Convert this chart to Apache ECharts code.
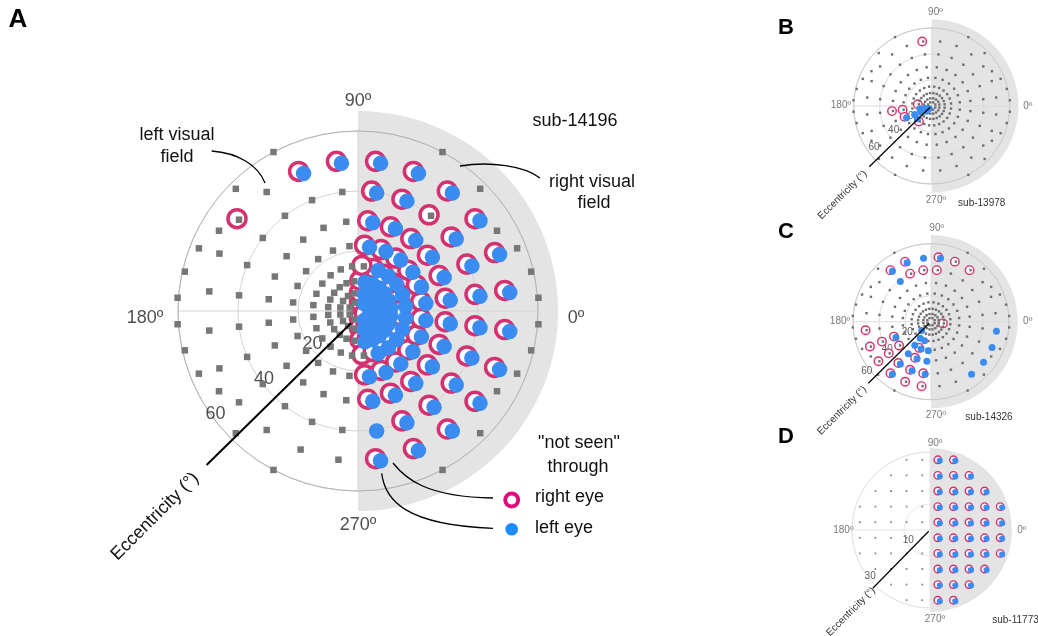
<!DOCTYPE html>
<html>
<head>
<meta charset="utf-8">
<script src="https://cdn.jsdelivr.net/npm/echarts@6/dist/echarts.min.js"></script>
<style>
  html, body { margin: 0; padding: 0; background: #fff; }
  #chart { width: 1038px; height: 636px; }
</style>
</head>
<body>
<div id="chart"></div>
<script>
// ---------------------------------------------------------------------------
// Tick labels
const angleTicks = [0, 90, 180, 270];
const eccTicksWide = [20, 40, 60];
const eccTicks30 = [10, 30];

// Wide-field stimulus layout (panels A-C), polar [eccentricity deg, angle deg]
const ringEcc = [15, 21.8, 30, 40, 50];
const ringAngles = [7.5, 22.5, 37.5, 52.5, 67.5, 82.5, 97.5, 112.5, 127.5, 142.5, 157.5, 172.5,
                    187.5, 202.5, 217.5, 232.5, 247.5, 262.5, 277.5, 292.5, 307.5, 322.5, 337.5, 352.5];
const ecc6Angles = [11.25, 33.75, 56.25, 78.75, 101.25, 123.75, 146.25, 168.75,
                    191.25, 213.75, 236.25, 258.75, 281.25, 303.75, 326.25, 348.75];
const ecc3Angles = [22.5, 67.5, 112.5, 157.5, 202.5, 247.5, 292.5, 337.5];
const centralRings = [[10, ringAngles], [6, ecc6Angles], [3, ecc3Angles]];
const outerPoints = [
  [60, 62], [57.6, 45], [53.5, 30], [57, 21.5], [59.2, 12.8], [60.3, 4.2],
  [60, 118], [57.6, 135], [53.5, 150], [57, 158.5], [59.2, 167.2], [60.3, 175.8],
  [60, 242], [57.6, 225], [53.5, 210], [57, 201.5], [59.2, 192.8], [60.3, 184.2],
  [60, 298], [57.6, 315], [53.5, 330], [57, 338.5], [59.2, 347.2], [60.3, 355.8]
];

// 30-2 layout (panel D): rows of [y, x positions], degrees
const grid30Rows = [
  [27, [-9, -3, 3, 9]],
  [21, [-15, -9, -3, 3, 9, 15]],
  [15, [-21, -15, -9, -3, 3, 9, 15, 21]],
  [9, [-27, -21, -15, -9, -3, 3, 9, 15, 21, 27]],
  [3, [-27, -21, -15, -9, -3, 3, 9, 15, 21, 27]],
  [-3, [-27, -21, -15, -9, -3, 3, 9, 15, 21, 27]],
  [-9, [-27, -21, -15, -9, -3, 3, 9, 15, 21, 27]],
  [-15, [-21, -15, -9, -3, 3, 9, 15, 21]],
  [-21, [-15, -9, -3, 3, 9, 15]],
  [-27, [-9, -3, 3, 9]]
];

// "not seen" locations, eccentricity -> polar angles
const rightFieldAngles = [7.5, 22.5, 37.5, 52.5, 67.5, 82.5, 277.5, 292.5, 307.5, 322.5, 337.5, 352.5];
const notSeenRightEyeA = {
  3: [22.5, 67.5, 292.5, 337.5],
  6: [11.25, 33.75, 56.25, 78.75, 281.25, 303.75, 326.25, 348.75],
  10: rightFieldAngles,
  15: rightFieldAngles,
  21.8: rightFieldAngles,
  30: rightFieldAngles,
  40: [7.5, 22.5, 37.5, 52.5, 67.5, 82.5, 292.5, 307.5, 322.5, 337.5, 352.5],
  50: [7.5, 22.5, 37.5, 52.5, 67.5, 82.5, 97.5, 112.5, 142.5, 277.5, 292.5, 307.5, 322.5, 337.5, 352.5]
};
const notSeenLeftEyeA = {
  3: [22.5, 67.5, 292.5, 337.5],
  6: [11.25, 33.75, 56.25, 78.75, 281.25, 303.75, 326.25, 348.75],
  10: rightFieldAngles,
  15: [7.5, 22.5, 37.5, 52.5, 67.5, 292.5, 307.5, 322.5, 337.5, 352.5],
  21.8: rightFieldAngles,
  30: rightFieldAngles,
  40: [7.5, 22.5, 37.5, 67.5, 82.5, 277.5, 292.5, 307.5, 322.5, 337.5, 352.5],
  50: [7.5, 22.5, 37.5, 52.5, 67.5, 82.5, 97.5, 112.5, 277.5, 292.5, 307.5, 322.5, 337.5, 352.5]
};
const notSeenRightEyeB = { 50: [97.5], 30: [187.5], 21.8: [187.5, 202.5], 15: [232.5], 10: [172.5] };
const notSeenLeftEyeB = { 21.8: [202.5], 15: [202.5, 217.5], 10: [187.5, 202.5], 6: [191.25, 213.75], 3: [202.5] };
const notSeenRightEyeC = {
  50: [52.5, 67.5, 82.5, 112.5, 127.5, 187.5, 202.5, 217.5, 232.5, 247.5, 262.5],
  40: [82.5, 97.5, 112.5, 202.5, 217.5, 232.5, 247.5, 262.5],
  30: [202.5, 217.5, 247.5],
  21.8: [247.5],
  10: [352.5]
};
const notSeenLeftEyeC = {
  50: [82.5, 97.5, 112.5, 127.5, 232.5, 307.5, 322.5, 337.5, 352.5],
  40: [127.5, 232.5, 247.5, 262.5],
  30: [202.5, 232.5, 247.5, 262.5],
  21.8: [232.5, 247.5, 262.5],
  15: [232.5, 247.5],
  10: [217.5]
};
const notSeenBothEyesD = [
  [27, [3, 9]], [21, [3, 9, 15]], [15, [3, 9, 15, 21]],
  [9, [3, 9, 15, 21, 27]], [3, [3, 9, 15, 21, 27]], [-3, [3, 9, 15, 21, 27]],
  [-9, [3, 9, 15, 21, 27]], [-15, [3, 9, 15, 21]], [-21, [3, 9, 15]], [-27, [3, 9]]
];

// ---------------------------------------------------------------------------
function fromKeyed(obj) {
  const out = [];
  Object.keys(obj).forEach(k => obj[k].forEach(a => out.push([parseFloat(k), a])));
  return out;
}
function fromRows(rows) {
  const out = [];
  rows.forEach(([y, xs]) => xs.forEach(x => {
    let a = Math.atan2(y, x) * 180 / Math.PI;
    if (a < 0) a += 360;
    out.push([Math.hypot(x, y), a]);
  }));
  return out;
}
const gridWide = [];
ringEcc.forEach(e => ringAngles.forEach(a => gridWide.push([e, a])));
centralRings.forEach(([e, as]) => as.forEach(a => gridWide.push([e, a])));
outerPoints.forEach(p => gridWide.push(p));
const grid30 = fromRows(grid30Rows);

const RING = '#d5306f';
const BLUE = '#3a8cf0';
const FONT = '"Liberation Sans", Arial, Helvetica, sans-serif';

const panels = [
  { center: [358, 311], radius: 180, max: 60, interval: 20, shade: 66.7,
    grid: gridWide, right: fromKeyed(notSeenRightEyeA), left: fromKeyed(notSeenLeftEyeA),
    sq: 6.5, sqColor: '#777777', ring: 18, ringW: 3.5, dot: 15.5, ringOff: [-2, -1], dotOff: [3, 1],
    font: 18, tickColor: '#222', eccColor: '#222',
    tickAt: [[72.7, 358.2], [70, 90], [71, 181.9], [71.3, 270]],
    eccTicks: eccTicksWide, eccAt: [[18.7, 216], [38.7, 216], [58.7, 216]],
    line: [[4.7, 240], [72, 225.5]], lineW: 2,
    split: '#d3d3d3', outer: '#b3b3b3' },
  { center: [931.7, 106], radius: 78, max: 60, interval: 20, shade: 66.7,
    grid: gridWide, right: fromKeyed(notSeenRightEyeB), left: fromKeyed(notSeenLeftEyeB),
    sq: 2.4, sqColor: '#6f6f6f', ring: 8.5, ringW: 1.4, dot: 7, ringOff: [-1, 0], dotOff: [1, 1],
    font: 10, tickColor: '#555', eccColor: '#333',
    tickAt: [[74, 0], [72.4, 87.7], [69.8, 179.4], [72.4, 272.6]],
    eccTicks: eccTicksWide, eccAt: [[20, 204], [34.8, 212.7], [54.6, 215.6]],
    line: [[1.6, 217], [67, 224.2]], lineW: 1.2,
    split: '#dcdcdc', outer: '#cacaca' },
  { center: [931, 321.7], radius: 78, max: 60, interval: 20, shade: 66.7,
    grid: gridWide, right: fromKeyed(notSeenRightEyeC), left: fromKeyed(notSeenLeftEyeC),
    sq: 2.4, sqColor: '#6f6f6f', ring: 8.5, ringW: 1.4, dot: 7, ringOff: [-1, 0], dotOff: [1, 1],
    font: 10, tickColor: '#555', eccColor: '#333',
    tickAt: [[74.4, 0.4], [72.4, 86.5], [70, 179.6], [71.9, 273]],
    eccTicks: eccTicksWide, eccAt: [[20, 204], [39.8, 212.3], [62.3, 217.5]],
    line: [[1.8, 223], [67.6, 224.5]], lineW: 1.2,
    split: '#dcdcdc', outer: '#cacaca' },
  { center: [930, 530], radius: 78, max: 30, interval: 10, shade: 31.5,
    grid: grid30, right: fromRows(notSeenBothEyesD), left: fromRows(notSeenBothEyesD),
    sq: 1.8, sqColor: '#8a8a8a', ring: 7.5, ringW: 1.4, dot: 6, ringOff: [0, 0], dotOff: [2, 1],
    font: 10, tickColor: '#555', eccColor: '#333',
    tickAt: [[35.3, 0], [33.6, 86.7], [33.3, 180], [34.3, 273.2]],
    eccTicks: eccTicks30, eccAt: [[9.3, 206], [29.2, 218]],
    line: [[0.7, 225], [31.4, 225.5]], lineW: 1.2,
    split: ['#f0f0f0', '#e6e6e6', 'rgba(0,0,0,0)', '#e6e6e6'], outer: '#e6e6e6' }
];

// right visual field backdrop: half disc out to the given eccentricity
function shadeItem(params, api) {
  const c = api.coord([0, 0]);
  const e = api.coord([api.value(0), 0]);
  const r = Math.hypot(e[0] - c[0], e[1] - c[1]);
  return {
    type: 'sector',
    shape: { cx: c[0], cy: c[1], r0: 0, r: r, startAngle: -Math.PI / 2, endAngle: Math.PI / 2, clockwise: true },
    style: { fill: '#e4e4e4' }
  };
}
// eccentricity axis pointer: straight segment between two polar positions
function eccLineItem(width) {
  return function (params, api) {
    const a = api.coord([api.value(0), api.value(1)]);
    const b = api.coord([api.value(2), api.value(3)]);
    return {
      type: 'line',
      shape: { x1: a[0], y1: a[1], x2: b[0], y2: b[1] },
      style: { stroke: '#000', lineWidth: width }
    };
  };
}

const polar = [], angleAxis = [], radiusAxis = [], series = [];
panels.forEach((p, i) => {
  polar.push({ center: p.center, radius: p.radius });
  angleAxis.push({
    polarIndex: i, type: 'value', min: 0, max: 360, interval: 90, startAngle: 0, clockwise: false, z: 1,
    axisLine: { lineStyle: { color: p.outer, width: 1 } },
    axisTick: { show: false }, axisLabel: { show: false },
    splitLine: { show: true, lineStyle: { color: Array.isArray(p.split) ? p.split[1] : p.split, width: 1 } }
  });
  radiusAxis.push({
    polarIndex: i, type: 'value', min: 0, max: p.max, interval: p.interval, z: 1,
    axisLine: { show: false }, axisTick: { show: false }, axisLabel: { show: false },
    splitLine: { show: true, lineStyle: { color: p.split, width: 1 } }
  });
  const base = { coordinateSystem: 'polar', polarIndex: i, silent: true, animation: false };
  series.push(Object.assign({ type: 'custom', z: 0, clip: false, data: [[p.shade, 0]], renderItem: shadeItem }, base));
  series.push(Object.assign({ type: 'scatter', z: 2, clip: false, symbol: 'circle', symbolSize: p.ring,
    symbolOffset: p.ringOff, itemStyle: { color: '#ffffff', borderColor: RING, borderWidth: p.ringW, opacity: 1 },
    data: p.right }, base));
  series.push(Object.assign({ type: 'scatter', z: 3, clip: false, symbol: 'rect', symbolSize: p.sq,
    itemStyle: { color: p.sqColor, opacity: 1 }, data: p.grid }, base));
  series.push(Object.assign({ type: 'scatter', z: 4, clip: false, symbol: 'circle', symbolSize: p.dot,
    symbolOffset: p.dotOff, itemStyle: { color: BLUE, opacity: 1 }, data: p.left }, base));
  series.push(Object.assign({ type: 'custom', z: 5, clip: false,
    data: [[p.line[0][0], p.line[0][1], p.line[1][0], p.line[1][1]]],
    dimensions: ['radius', 'angle', 'r2', 'a2'],
    encode: { radius: 0, angle: 1 },
    renderItem: eccLineItem(p.lineW) }, base));
  // angle tick labels and eccentricity tick labels
  const labelData = angleTicks.map((t, k) => ({ name: t + 'º', value: p.tickAt[k], label: { color: p.tickColor } }))
    .concat(p.eccTicks.map((t, k) => ({ name: String(t), value: p.eccAt[k], label: { color: p.eccColor } })));
  series.push(Object.assign({ type: 'scatter', z: 1, clip: false, symbolSize: 0,
    label: { show: true, position: 'inside', formatter: '{b}', fontSize: p.font, fontFamily: FONT },
    data: labelData }, base));
});

function text(x, y, s, size, extra) {
  return Object.assign({ type: 'text', x: x, y: y, z: 10, silent: true,
    style: Object.assign({ text: s, fontSize: size, fontFamily: FONT, fill: '#111', align: 'center', verticalAlign: 'middle' }, extra || {}) });
}
function curve(x1, y1, c1x, c1y, c2x, c2y, x2, y2) {
  return { type: 'bezierCurve', z: 10, silent: true,
    shape: { x1: x1, y1: y1, cpx1: c1x, cpy1: c1y, cpx2: c2x, cpy2: c2y, x2: x2, y2: y2 },
    style: { stroke: '#000', lineWidth: 1.3, fill: null } };
}
function rotated(x, y, s, size, color) {
  const t = text(x, y, s, size, { fill: color });
  t.rotation = Math.PI / 4;
  return t;
}

const graphic = [
  text(18, 20, 'A', 26, { fontWeight: 'bold', fill: '#000' }),
  text(786, 28, 'B', 22, { fontWeight: 'bold', fill: '#000' }),
  text(786, 232, 'C', 22, { fontWeight: 'bold', fill: '#000' }),
  text(786, 437, 'D', 22, { fontWeight: 'bold', fill: '#000' }),
  text(177, 135, 'left visual', 18),
  text(177, 157, 'field', 18),
  curve(211.7, 151, 238, 153, 258, 165, 265, 183),
  text(592, 182, 'right visual', 18),
  text(594, 203, 'field', 18),
  curve(460, 166, 490, 161, 525, 166, 540, 178),
  text(575, 121, 'sub-14196', 18),
  text(579, 443, '"not seen"', 18),
  text(578, 467, 'through', 18),
  text(535, 497, 'right eye', 18, { align: 'left' }),
  text(535, 528, 'left eye', 18, { align: 'left' }),
  { type: 'circle', z: 10, silent: true, shape: { cx: 511.7, cy: 500, r: 6.5 },
    style: { fill: '#fff', stroke: '#e2087c', lineWidth: 3.8 } },
  { type: 'circle', z: 10, silent: true, shape: { cx: 511.7, cy: 529.3, r: 6.3 },
    style: { fill: '#1a8cff' } },
  curve(393, 463, 405, 478, 425, 497, 493, 498),
  curve(381.7, 473.3, 385, 500, 405, 525, 493, 528.3),
  rotated(155, 516.5, 'Eccentricity (°)', 18, '#111'),
  text(981.7, 203, 'sub-13978', 10, { fill: '#333' }),
  text(989, 417.3, 'sub-14326', 10, { fill: '#333' }),
  text(1015.5, 620, 'sub-11773', 10, { fill: '#333' }),
  rotated(842.5, 195, 'Eccentricity (°)', 10, '#333'),
  rotated(842, 410.5, 'Eccentricity (°)', 10, '#333'),
  rotated(850.8, 611.7, 'Eccentricity (°)', 10, '#333')
];

const chart = echarts.init(document.getElementById('chart'), null, { renderer: 'canvas' });
chart.setOption({
  backgroundColor: '#ffffff',
  animation: false,
  polar: polar,
  angleAxis: angleAxis,
  radiusAxis: radiusAxis,
  series: series,
  graphic: graphic
});
</script>
</body>
</html>
